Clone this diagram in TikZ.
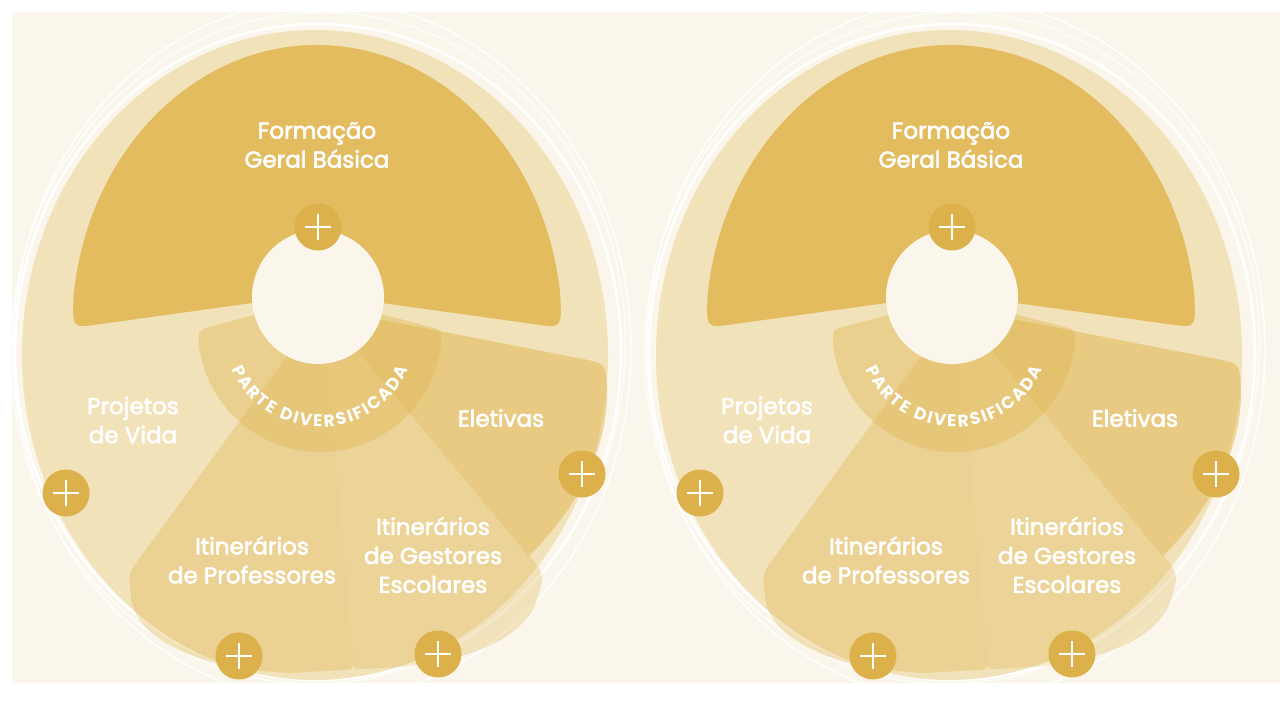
\documentclass[tikz,border=0pt]{standalone}
\usepackage{fontspec}
\setmainfont{Poppins}
\newfontfamily\pdfont{Poppins}
\newfontfamily\lblfont{Poppins}[FakeBold=2.5]
\usetikzlibrary{decorations.text}
\definecolor{cream}{HTML}{FAF6EC}
\definecolor{disc}{HTML}{F2E2B9}
\definecolor{fgold}{HTML}{E2BC5F}
\definecolor{sgold}{HTML}{E0B44E}
\definecolor{bubgold}{HTML}{DCB04A}
\tikzset{
  lbl/.style={text=white, align=center, font=\lblfont\fontsize{23}{29}\selectfont, inner sep=0pt},
  bub/.style={circle, fill=bubgold, minimum size=47pt, inner sep=0pt,
    path picture={\draw[white, line width=2.6pt]
      ([xshift=-13pt]path picture bounding box.center) -- ([xshift=13pt]path picture bounding box.center)
      ([yshift=-13pt]path picture bounding box.center) -- ([yshift=13pt]path picture bounding box.center);}},
  ring/.style={draw=white},
  sector/.style={fill=sgold, draw=none},
}
\newcommand\drawdiagram{%
  % decorative rings
  \draw[ring, line width=1.4pt] (322,-350) ellipse[x radius=309, y radius=350];
  \draw[ring, line width=1pt, rotate around={-5:(318,-348)}] (318,-348) ellipse[x radius=307, y radius=336];
  \draw[ring, line width=2.6pt] (318,-352) ellipse[x radius=303, y radius=328];
  % base disc
  \fill[disc] (315,-355) ellipse[x radius=293, y radius=325];
  % Formacao Geral Basica
  \fill[fgold] (317,-294) -- (97.8,-324.4) .. controls (72,-328) .. (73.8,-293.5)
     arc[start angle=173, end angle=7, x radius=245, y radius=283]
     .. controls (562,-328) .. (536.2,-324.4) -- cycle;
  % Professores
  \fill[sector, fill opacity=0.34] (322,-308) -- (145,-551) .. controls (128,-573) .. (131,-595)
     .. controls (132,-630) and (180,-668) .. (290,-673) -- (342,-670)
     .. controls (353,-670) .. (353,-658) -- cycle;
  % Gestores
  \fill[sector, fill opacity=0.3] (322,-308) -- (527,-553) .. controls (545,-574) .. (536,-603)
     .. controls (520,-640) and (470,-660) .. (400,-667) -- (360,-669)
     .. controls (353,-669) .. (353,-658) -- cycle;
  % Eletivas
  \fill[sector, fill opacity=0.5] (322,-308) -- (588,-360) .. controls (605,-364) .. (607,-385)
     .. controls (609,-440) and (585,-500) .. (529,-556) -- cycle;
  % Parte diversificada band
  \fill[sector, fill opacity=0.4] (318,-298) -- (212.5,-326.1) .. controls (198,-330) .. (199.2,-347)
     arc[start angle=188, end angle=352, radius=122]
     .. controls (442,-330) .. (427.5,-326.1) -- cycle;
  % central circle
  \fill[cream] (318,-297) ellipse[x radius=66, y radius=67];
  % curved text
  {\pdfont\bfseries\fontsize{17}{17}\selectfont
  \path[decorate, decoration={text along path,
      text={|\pdfont\bfseries\fontsize{17}{17}\selectfont|PARTE DIVERSIFICADA},
      text align=fit to path, text color=white}]
      (320,-330) ++(204:97) arc[start angle=204, end angle=336, radius=97];
  }
  % plus bubbles
  \node[bub] (pfgb) at (318,-227) {};
  \node[bub] (ppv) at (66,-493) {};
  \node[bub] (pip) at (239,-656) {};
  \node[bub] (pig) at (438,-654) {};
  \node[bub] (pel) at (582,-474) {};
  % labels
  \node[lbl] (fgb) at (317,-145) {Formação\\Geral Básica};
  \node[lbl] (pv) at (133,-420) {Projetos\\de Vida};
  \node[lbl] (el) at (501,-418) {Eletivas};
  \node[lbl] (ip) at (252,-560) {Itinerários\\de Professores};
  \node[lbl] (ig) at (433,-555) {Itinerários\\de Gestores\\Escolares};
}
\begin{document}
\begin{tikzpicture}[x=1pt,y=1pt]
  \useasboundingbox (0,-720) rectangle (1280,0);
  \fill[white] (0,-720) rectangle (1280,0);
  \fill[cream] (12,-683) rectangle (1280,-12);
  \begin{scope}[name prefix=L-]
    \drawdiagram
  \end{scope}
  \begin{scope}[xshift=634pt, name prefix=R-]
    \drawdiagram
  \end{scope}
  \fill[white] (0,-720) rectangle (1280,-683);
  \fill[white] (0,0) rectangle (1280,-12);
  \fill[white] (0,0) rectangle (12,-720);
\end{tikzpicture}
\end{document}
